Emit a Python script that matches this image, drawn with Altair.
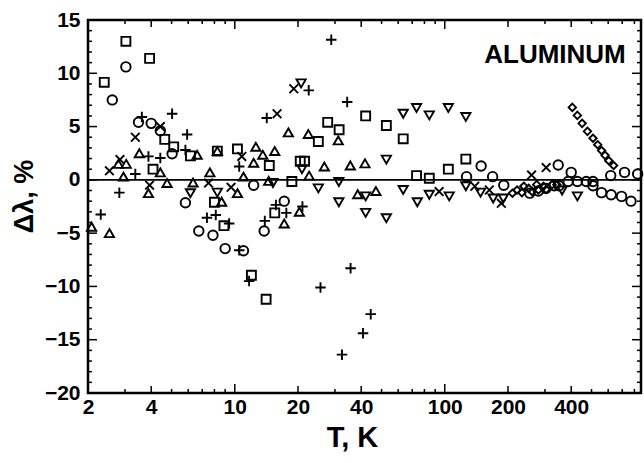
import altair as alt
import pandas as pd

# ---------------- data ----------------
sq_T = [2.39, 3.03, 3.93, 4.64, 5.12, 6.15, 8.26, 10.3, 4.08, 8.0, 8.88, 12.0, 14.1, 15.5,
        27.7, 31.4, 25.0, 42.0, 52.7, 63.4, 14.6, 20.5, 21.5, 18.7, 73.4, 84.4, 104, 126]
sq_V = [9.15, 13.0, 11.4, 3.8, 3.1, 2.25, 2.7, 2.9, 1.0, -2.1, -4.3, -8.95, -11.2, -3.1,
        5.4, 4.7, 3.6, 6.0, 5.1, 3.85, 1.35, 1.75, 1.75, -0.15, 0.4, 0.15, 1.0, 1.95]

ci_T = [3.03, 2.61, 3.48, 4.0, 4.42, 5.03, 12.3, 5.82, 6.74, 7.87, 9.0, 11.0, 17.2, 13.8,
        149, 127, 169, 347, 400, 617, 718, 829, 387, 428, 472, 508, 508, 558, 620, 695, 771,
        191, 254, 279, 303, 332, 350]
ci_V = [10.6, 7.5, 5.4, 5.3, 4.6, 2.45, -0.5, -2.15, -4.8, -5.2, -6.45, -6.65, -2.0, -4.8,
        1.3, 0.3, 0.3, 1.4, 0.7, 0.4, 0.7, 0.55, -0.15, -0.15, -0.15, -0.15, -0.55, -1.2, -1.4, -1.55, -2.0,
        -0.5, -1.25, -1.05, -0.8, -0.55, -0.55]

tu_T = [2.79, 3.04, 2.95, 3.51, 4.42, 6.62, 8.26, 12.6, 12.3, 7.61, 11.0, 4.76, 6.33, 3.88,
        2.08, 2.53, 8.66, 10.3, 18.0, 22.4, 31.1, 13.6, 15.5, 26.7, 35.5, 41.7, 22.6, 14.5,
        38.5, 47, 17.2, 20.3]
tu_V = [1.5, 1.5, 0.3, 2.5, 0.7, 2.35, 2.7, 3.1, 1.6, 0.7, 0.3, -0.3, -0.25, -1.25,
        -4.4, -5.0, -2.05, -1.25, 4.45, 4.3, 3.7, 2.35, 2.7, 1.25, 1.35, 1.55, 0.4, -0.1,
        -1.35, -1.05, -4.1, -3.0]

td_T = [8.26, 6.15, 20.7, 63.4, 73.4, 84.4, 104, 20.9, 52.7, 15.2, 25.0, 31.3, 42, 63.4,
        84.4, 105, 31.3, 42, 52.7, 74, 126, 362, 428, 126, 148, 170, 190]
td_V = [-1.2, -1.25, 9.05, 6.2, 6.75, 6.05, 6.75, 1.0, 1.9, -0.3, -0.8, -0.2, -1.55, -0.95,
        -1.4, -1.55, -2.1, -3.1, -3.6, -2.1, 5.9, -1.0, -1.55, -0.6, -1.2, -1.75, -1.75]

pl_T = [3.61, 5.03, 5.93, 5.82, 10.5, 3.36, 3.88, 4.42, 2.82, 2.30, 7.37, 8.12, 9.4, 10.5,
        11.7, 28.8, 22.5, 34.3, 14.2, 15.7, 17.6, 13.9, 21, 25.6, 35.6, 44.4, 40.8, 32.4]
pl_V = [5.9, 6.2, 4.25, 2.8, 1.25, 0.55, 2.2, 2.05, -1.2, -3.25, -3.55, -3.3, -4.1, -6.6,
        -9.5, 13.15, 8.4, 7.3, 5.8, -2.35, -3.1, -3.85, -2.5, -10.1, -8.3, -12.6, -14.4, -16.4]

xx_T = [3.36, 4.42, 10.8, 2.53, 2.84, 7.5, 9.6, 3.93, 19.1, 15.9, 94, 259, 304, 139, 163, 186]
xx_V = [4.0, 5.0, 2.2, 0.85, 1.9, -0.3, -0.7, -0.5, 8.55, 6.2, -1.1, 0.45, 1.15, -0.6, -0.95, -2.2]

di_T = [405, 428, 451, 478, 508, 535, 558, 580, 604, 637,
        210, 221, 233, 238, 251, 261, 274, 279, 295, 304, 324, 342]
di_V = [6.8, 6.05, 5.3, 4.55, 3.9, 3.3, 2.75, 2.3, 1.8, 1.35,
        -1.25, -0.95, -1.2, -0.6, -0.8, -1.1, -0.45, -0.95, -0.6, -0.9, -0.45, -0.45]

x_labels = [2, 4, 10, 20, 40, 100, 200, 400]
y_labels = [-20, -15, -10, -5, 0, 5, 10, 15]
x_minor = [3, 5, 6, 7, 8, 9, 30, 50, 60, 70, 80, 90, 300, 500, 600, 700, 800]
x_mid = [4, 20, 40, 200, 400]
x_major = [10, 100]
y_minor = [v for v in range(-19, 15) if v % 5 != 0]
y_major = [-15, -10, -5, 0, 5, 10]
annotation = ["ALUMINUM"]

# ---------------- layout / style ----------------
W, H = 553, 373
FONT = "Liberation Sans"
xscale = alt.Scale(type="log", domain=[2, 860], nice=False)
yscale = alt.Scale(domain=[-20, 15], nice=False, zero=False)

xaxis = alt.Axis(values=x_labels, format="d", labelFont=FONT, labelFontWeight="bold",
                 labelFontSize=21, labelColor="black", labelPadding=3, labelFlush=False,
                 labelOverlap=False, domain=False, ticks=False, tickSize=0, grid=False,
                 title="T, K", titleFont=FONT, titleFontWeight="bold", titleFontSize=29,
                 titleColor="black", titlePadding=6, titleX=264)
yaxis = alt.Axis(values=y_labels, labelFont=FONT, labelFontWeight="bold",
                 labelFontSize=21, labelColor="black", labelPadding=8, labelFlush=False,
                 labelOverlap=False, domain=False, ticks=False, tickSize=0, grid=False,
                 title="Δλ, %", titleFont=FONT, titleFontWeight="bold", titleFontSize=27,
                 titleColor="black", titleAngle=270, titleX=-64, titleY=176,
                 titleAlign="center", titleBaseline="middle")

X = alt.X("T:Q", scale=xscale, axis=xaxis)
Y = alt.Y("V:Q", scale=yscale, axis=yaxis)

series = [
    (sq_T, sq_V, "square", 80),
    (ci_T, ci_V, "circle", 90),
    (tu_T, tu_V, "triangle-up", 85),
    (td_T, td_V, "triangle-down", 85),
    (pl_T, pl_V, "M-1,0L1,0M0,-1L0,1", 110),
    (xx_T, xx_V, "M-1,-1L1,1M-1,1L1,-1", 75),
    (di_T, di_V, "diamond", 55),
]

layers = []
# zero line
layers.append(alt.Chart(pd.DataFrame({"V": [0]})).mark_rule(color="black", strokeWidth=1.8)
              .encode(y=Y))
for Ts, Vs, shp, sz in series:
    d = pd.DataFrame({"T": Ts, "V": Vs})
    layers.append(alt.Chart(d).mark_point(shape=shp, size=sz, filled=False, color="black",
                                          strokeWidth=1.9, opacity=1).encode(x=X, y=Y))

# inward ticks
def xticks(vals, L):
    d = pd.DataFrame({"T": vals})
    b = alt.Chart(d).mark_tick(orient="vertical", size=L, thickness=1.5, color="black",
                               opacity=1).encode(x=X, y=alt.value(H - L / 2))
    t = alt.Chart(d).mark_tick(orient="vertical", size=L, thickness=1.5, color="black",
                               opacity=1).encode(x=X, y=alt.value(L / 2))
    return [b, t]

def yticks(vals, L):
    d = pd.DataFrame({"V": vals})
    l = alt.Chart(d).mark_tick(orient="horizontal", size=L, thickness=1.5, color="black",
                               opacity=1).encode(y=Y, x=alt.value(L / 2))
    r = alt.Chart(d).mark_tick(orient="horizontal", size=L, thickness=1.5, color="black",
                               opacity=1).encode(y=Y, x=alt.value(W - L / 2))
    return [l, r]

layers += xticks(x_minor, 4) + xticks(x_mid, 7) + xticks(x_major, 9)
layers += yticks(y_minor, 4) + yticks(y_major, 9)

layers.append(alt.Chart(pd.DataFrame({"label": annotation})).mark_text(
    font=FONT, fontWeight="bold", fontSize=26, align="center", baseline="alphabetic",
    color="black").encode(text="label:N", x=alt.value(467), y=alt.value(43)))

chart = alt.layer(*layers).properties(
    width=W, height=H,
    autosize=alt.AutoSizeParams(type="none"),
    padding={"left": 88, "top": 20, "right": 3, "bottom": 70},
    background="white",
).configure_view(stroke="black", strokeWidth=2.5)

chart.save("out.html", embed_options={"renderer": "svg", "actions": False})
